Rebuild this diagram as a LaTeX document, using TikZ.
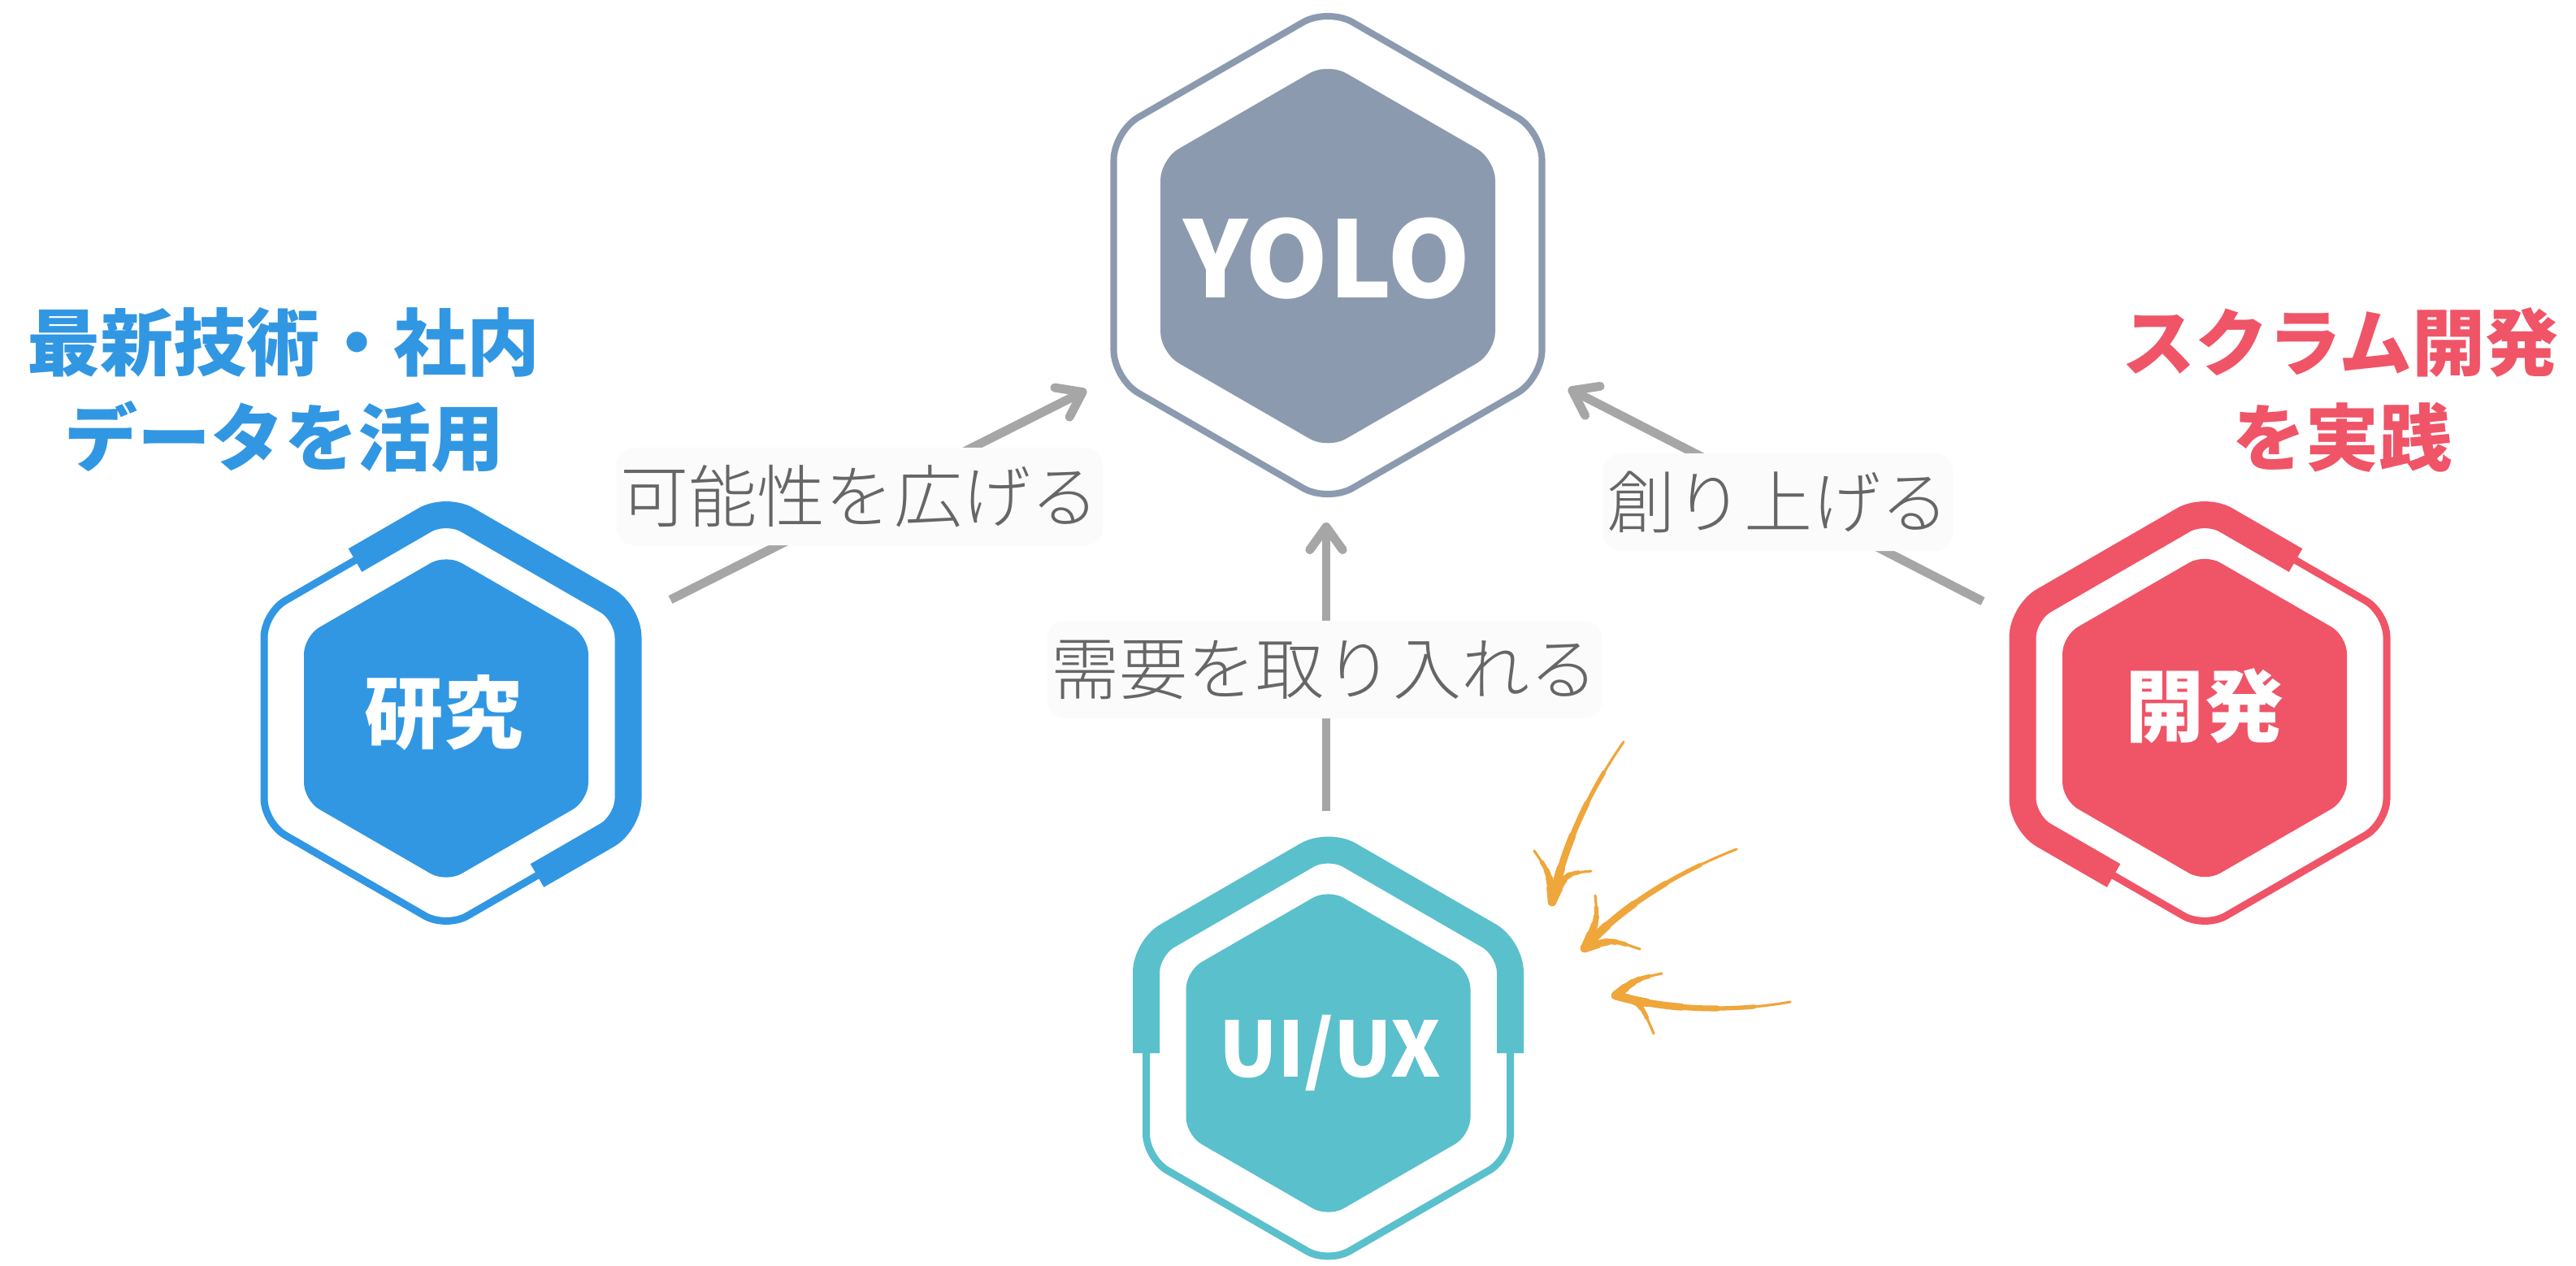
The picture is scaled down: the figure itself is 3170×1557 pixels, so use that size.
\documentclass[tikz,border=0pt]{standalone}
\usepackage{fontspec}
\usetikzlibrary{arrows.meta,calc}
\newfontfamily\cjkfont{Noto Sans CJK JP}
\newfontfamily\cjklight{Noto Sans CJK JP Light}
\definecolor{cblue}{HTML}{3197E3}
\definecolor{cred}{HTML}{F05467}
\definecolor{cteal}{HTML}{5AC0CC}
\definecolor{cslate}{HTML}{8C9AB0}
\definecolor{corange}{HTML}{EFA63B}
\definecolor{carrow}{HTML}{A6A6A6}
\definecolor{ctext}{HTML}{666666}
\definecolor{clblbg}{HTML}{FBFBFB}

\newcommand\hexpath[3]{({#1-#3},{#2}) -- ({#1-#3},{#2-0.57735*#3}) -- ({#1},{#2-1.1547*#3}) -- ({#1+#3},{#2-0.57735*#3}) -- ({#1+#3},{#2+0.57735*#3}) -- ({#1},{#2+1.1547*#3}) -- ({#1-#3},{#2+0.57735*#3}) -- cycle}

\newcommand\taper[4]{%
  \coordinate (q0) at #1; \coordinate (q1) at #2; \coordinate (q2) at #3; \coordinate (q3) at #4;
  \foreach \tpos/\lwid in {0/0.9pt, 0.2/1.5pt, 0.4/2.0pt, 0.6/2.5pt, 0.8/3.0pt}{
    \coordinate (qa) at ($(q0)!\tpos!(q1)$);
    \coordinate (qb) at ($(q1)!\tpos!(q2)$);
    \coordinate (qc) at ($(q2)!\tpos!(q3)$);
    \coordinate (qd) at ($(qa)!\tpos!(qb)$);
    \coordinate (qe) at ($(qb)!\tpos!(qc)$);
    \coordinate (qf) at ($(qd)!\tpos!(qe)$);
    \draw[orng, line width=\lwid] (qf) .. controls (qe) and (qc) .. (q3);
  }%
}

\begin{document}
\begin{tikzpicture}[x=0.01cm,y=-0.01cm,
  thinline/.style={line width=2.56pt, line join=round},
  bandline/.style={line width=9.39pt, line join=round},
  grayarrow/.style={draw=carrow, line width=3.1pt, -{Straight Barb[length=8pt,width=11.5pt,round]}},
  hextext/.style={text=white, font=\cjkfont\bfseries\fontsize{27.6pt}{32pt}\selectfont, inner sep=0pt},
  hexlatin/.style={text=white, inner sep=0pt, anchor=base},
  sidetitle/.style={font=\cjkfont\bfseries\fontsize{25.6pt}{30pt}\selectfont, inner sep=0pt},
  lbl/.style={font=\cjklight\fontsize{23.9pt}{28pt}\selectfont, text=ctext, fill=clblbg, rounded corners=0.22cm, inner xsep=1.5pt, inner ysep=0pt, minimum height=1.2cm},
  orng/.style={draw=corange, line cap=round}
]
\fill[white] (0,0) rectangle (3170,1557);
\useasboundingbox (0,0) rectangle (3170,1557);

% ---------- gray arrows and labels ----------
\coordinate (a1s) at (825,738);  \coordinate (a1e) at (1337,480);
\coordinate (a2s) at (1632,998); \coordinate (a2e) at (1632,643);
\coordinate (a3s) at (2440,740); \coordinate (a3e) at (1930,478);
\draw[grayarrow] (a1s) -- (a1e);
\draw[grayarrow] (a2s) -- (a2e);
\draw[grayarrow] (a3s) -- (a3e);
\node[lbl] (l1) at (1058,611) {可能性を広げる};
\node[lbl] (l2) at (1630,824) {需要を取り入れる};
\node[lbl] (l3) at (2188,618) {創り上げる};

% ---------- YOLO ----------
\coordinate (cyolo) at (1634,314);
\draw[cslate, line width=2.3pt, rounded corners=0.35cm] \hexpath{1634}{314}{263.5};
\fill[cslate, rounded corners=0.26cm] \hexpath{1634}{315}{206};
\node[hexlatin, font=\cjkfont\bfseries\fontsize{37pt}{42pt}\selectfont] (yolo) at (1633,366) {YOLO};

% ---------- 研究 ----------
\coordinate (cken) at (549,883.5);
\draw[cblue, thinline, rounded corners=0.3cm] \hexpath{549}{883.5}{224};
\draw[cblue, bandline, rounded corners=0.3cm] (437,689.5) -- (549,624.8) -- (773,754.2) -- (773,1012.8) -- (661,1077.5);
\fill[cblue, rounded corners=0.22cm] \hexpath{549}{884}{175};
\node[hextext] (ken) at (546,877) {研究};

% ---------- 開発 ----------
\coordinate (cdev) at (2713,883.5);
\draw[cred, thinline, rounded corners=0.3cm] \hexpath{2713}{883.5}{224};
\draw[cred, bandline, rounded corners=0.3cm] (2825,689.5) -- (2713,624.8) -- (2489,754.2) -- (2489,1012.8) -- (2601,1077.5);
\fill[cred, rounded corners=0.22cm] \hexpath{2713}{883.5}{175};
\node[hextext] (dev) at (2713,869) {開発};

% ---------- UI/UX ----------
\coordinate (cui) at (1634.5,1296);
\draw[cteal, thinline, rounded corners=0.3cm] \hexpath{1634.5}{1296}{224};
\draw[cteal, bandline, rounded corners=0.3cm] (1410.5,1296) -- (1410.5,1166.7) -- (1634.5,1037.3) -- (1858.5,1166.7) -- (1858.5,1296);
\fill[cteal, rounded corners=0.22cm] \hexpath{1634.5}{1296}{175};
\node[hexlatin, font=\cjkfont\bfseries\fontsize{26.7pt}{31pt}\selectfont] (uiux) at (1637,1325) {UI/UX};

% ---------- side titles ----------
\node[sidetitle, text=cblue] (kt1) at (349,421.5) {最新技術・社内};
\node[sidetitle, text=cblue] (kt2) at (350,538) {データを活用};
\node[sidetitle, text=cred] (dt1) at (2880,421.7) {スクラム開発};
\node[sidetitle, text=cred] (dt2) at (2882,538) {を実践};

% ---------- orange hand-drawn arrows ----------
\taper{(1998,913)}{(1955,975)}{(1925,1040)}{(1910,1110)}
\taper{(1888,1047)}{(1907,1075)}{(1907,1075)}{(1910,1110)}
\taper{(1958,1072)}{(1926,1075)}{(1926,1075)}{(1910,1110)}

\taper{(2137,1045)}{(2060,1075)}{(1990,1120)}{(1950,1167)}
\taper{(1963,1102)}{(1966,1132)}{(1966,1132)}{(1950,1167)}
\taper{(2018,1168)}{(1983,1156)}{(1983,1156)}{(1950,1167)}

\taper{(2203,1233)}{(2130,1246)}{(2050,1243)}{(1988,1225)}
\taper{(2045,1198)}{(2013,1205)}{(2013,1205)}{(1988,1225)}
\taper{(2035,1272)}{(2018,1232)}{(2018,1232)}{(1988,1225)}
\end{tikzpicture}
\end{document}
